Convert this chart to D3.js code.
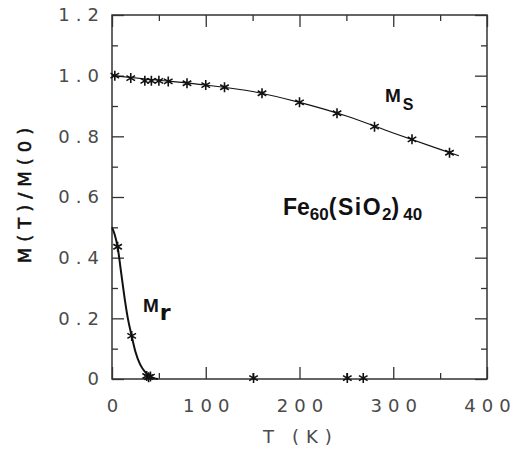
<!DOCTYPE html>
<html>
<head>
<meta charset="utf-8">
<script src="https://cdn.jsdelivr.net/npm/d3@7"></script>
<style>
  html, body { margin: 0; padding: 0; background: #fff; }
  svg { display: block; }
  .tick-label { font-family: "DejaVu Sans", sans-serif; font-weight: normal; font-size: 18px; fill: #4a4a4a; letter-spacing: 6px; white-space: pre; }
  .lbl { font-family: "Liberation Sans", Arial, sans-serif; font-weight: bold; fill: #111; }
</style>
</head>
<body>
<svg id="chart" width="516" height="450"></svg>
<script>
// ---- data ----
const msT = [3, 20, 35, 42, 50, 60, 80, 100, 120, 160, 200, 240, 280, 320, 360];
const msM = [1.0, 0.992, 0.983, 0.983, 0.983, 0.981, 0.975, 0.969, 0.962, 0.942, 0.912, 0.876, 0.832, 0.790, 0.746];
const msFitT = [0, 50, 100, 150, 200, 250, 300, 350, 370];
const msFitM = [1.0, 0.985, 0.969, 0.948, 0.912, 0.867, 0.811, 0.757, 0.736];

const mrT = [6, 21, 37, 39, 41, 151, 251, 268];
const mrM = [0.436, 0.142, 0.01, 0.006, 0.008, 0.003, 0.003, 0.003];
const mrFitT = [0, 3, 6, 10, 14, 17, 21, 25, 30, 35, 40, 45, 49];
const mrFitM = [0.5, 0.475, 0.435, 0.345, 0.255, 0.198, 0.142, 0.09, 0.048, 0.024, 0.01, 0.003, 0];

const xMajor = [0, 100, 200, 300, 400];
const xMinor = [50, 150, 250, 350];
const yMajor = [0, 0.2, 0.4, 0.6, 0.8, 1.0, 1.2];
const yMinor = [0.1, 0.3, 0.5, 0.7, 0.9, 1.1];
const yTickText = ["0", "0.2", "0.4", "0.6", "0.8", "1.0", "1.2"];
const xTickText = ["0", "100", "200", "300", "400"];

// ---- layout ----
const pL = 112, pR = 487, pT = 15, pB = 379;
const svg = d3.select("#chart");
const x = d3.scaleLinear().domain([0, 400]).range([pL, pR]);
const y = d3.scaleLinear().domain([0, 1.2]).range([pB, pT]);

const axisColor = "#333";
// frame
svg.append("rect").attr("x", pL).attr("y", pT).attr("width", pR - pL).attr("height", pB - pT)
  .attr("fill", "none").attr("stroke", axisColor).attr("stroke-width", 1.5);

// axes with inward ticks, labels
const axB = d3.axisBottom(x).tickValues(xMajor).tickSize(-12).tickFormat((d, i) => xTickText[i]).tickPadding(20);
const gB = svg.append("g").attr("transform", `translate(0,${pB})`).call(axB);
svg.append("g").attr("transform", `translate(0,${pB})`).call(d3.axisBottom(x).tickValues(xMinor).tickSize(-6).tickFormat(""));
svg.append("g").attr("transform", `translate(0,${pT})`).call(d3.axisTop(x).tickValues(xMajor).tickSize(-12).tickFormat(""));
svg.append("g").attr("transform", `translate(0,${pT})`).call(d3.axisTop(x).tickValues(xMinor).tickSize(-6).tickFormat(""));

const axL = d3.axisLeft(y).tickValues(yMajor).tickSize(-12).tickFormat((d, i) => yTickText[i]).tickPadding(13);
const gL = svg.append("g").attr("transform", `translate(${pL},0)`).call(axL);
svg.append("g").attr("transform", `translate(${pL},0)`).call(d3.axisLeft(y).tickValues(yMinor).tickSize(-6).tickFormat(""));
svg.append("g").attr("transform", `translate(${pR},0)`).call(d3.axisRight(y).tickValues(yMajor).tickSize(-12).tickFormat(""));
svg.append("g").attr("transform", `translate(${pR},0)`).call(d3.axisRight(y).tickValues(yMinor).tickSize(-6).tickFormat(""));

svg.selectAll(".domain").remove();
svg.selectAll(".tick line").attr("stroke", axisColor).attr("stroke-width", 1.3);
svg.selectAll(".tick text").attr("class", "tick-label").attr("font-size", null).attr("font-family", null).attr("fill", null);
gB.selectAll(".tick text").attr("dx", "3px");
gL.selectAll(".tick text").attr("dx", "6px");

// axis titles
const xt = svg.append("text").attr("class", "tick-label").attr("y", 443).attr("text-anchor", "start");
xt.append("tspan").attr("x", 263).text("T");
xt.append("tspan").attr("x", 292).style("letter-spacing", "7px").text("(K)");
svg.append("text").attr("class", "lbl")
  .attr("transform", `translate(31,${(120 + 265) / 2}) rotate(-90)`)
  .attr("text-anchor", "middle").style("font-size", "18px").style("font-weight", "normal")
  .style("font-family", "DejaVu Sans").style("letter-spacing", "6px").style("stroke", "#111").style("stroke-width", "0.6px")
  .text("M(T)/M(0)");

// curves
const line = d3.line().x(d => x(d[0])).y(d => y(d[1])).curve(d3.curveMonotoneX);
svg.append("path").datum(msFitT.map((t, i) => [t, msFitM[i]]))
  .attr("d", line).attr("fill", "none").attr("stroke", "#111").attr("stroke-width", 1.1);
svg.append("path").datum(mrFitT.map((t, i) => [t, mrFitM[i]]))
  .attr("d", line).attr("fill", "none").attr("stroke", "#111").attr("stroke-width", 2);

// asterisk markers
function star(g, cx, cy) {
  const h = 5, w = 4.3, d = 2.5;
  g.append("path")
    .attr("d", `M${cx},${cy - h}L${cx},${cy + h}M${cx - w},${cy - d}L${cx + w},${cy + d}M${cx - w},${cy + d}L${cx + w},${cy - d}`)
    .attr("stroke", "#111").attr("stroke-width", 1.6).attr("fill", "none");
}
const gs = svg.append("g");
msT.forEach((t, i) => star(gs, x(t), y(msM[i])));
mrT.forEach((t, i) => star(gs, x(t), y(mrM[i])));

// series labels
const ms = svg.append("text").attr("class", "lbl").attr("x", 385).attr("y", 102).style("font-size", "19px");
ms.append("tspan").text("M");
ms.append("tspan").attr("dy", 8).attr("dx", 2).style("font-size", "16px").text("S");

const mr = svg.append("text").attr("class", "lbl").attr("x", 143).attr("y", 312).style("font-size", "19px");
mr.append("tspan").text("M");
mr.append("tspan").attr("dy", 8).attr("dx", 1).style("font-size", "22px").style("font-family", "DejaVu Sans").text("r");

const fe = svg.append("text").attr("class", "lbl").attr("x", 283).attr("y", 215).style("font-size", "23px");
fe.append("tspan").text("Fe");
fe.append("tspan").attr("dy", 5).style("font-size", "17px").text("60");
fe.append("tspan").attr("dy", -5).style("letter-spacing", "1.5px").text("(SiO");
fe.append("tspan").attr("dy", 5).style("font-size", "17px").text("2");
fe.append("tspan").attr("dy", -5).text(")");
fe.append("tspan").attr("dy", 5).attr("dx", 4).style("font-size", "17px").text("40");
</script>
</body>
</html>
